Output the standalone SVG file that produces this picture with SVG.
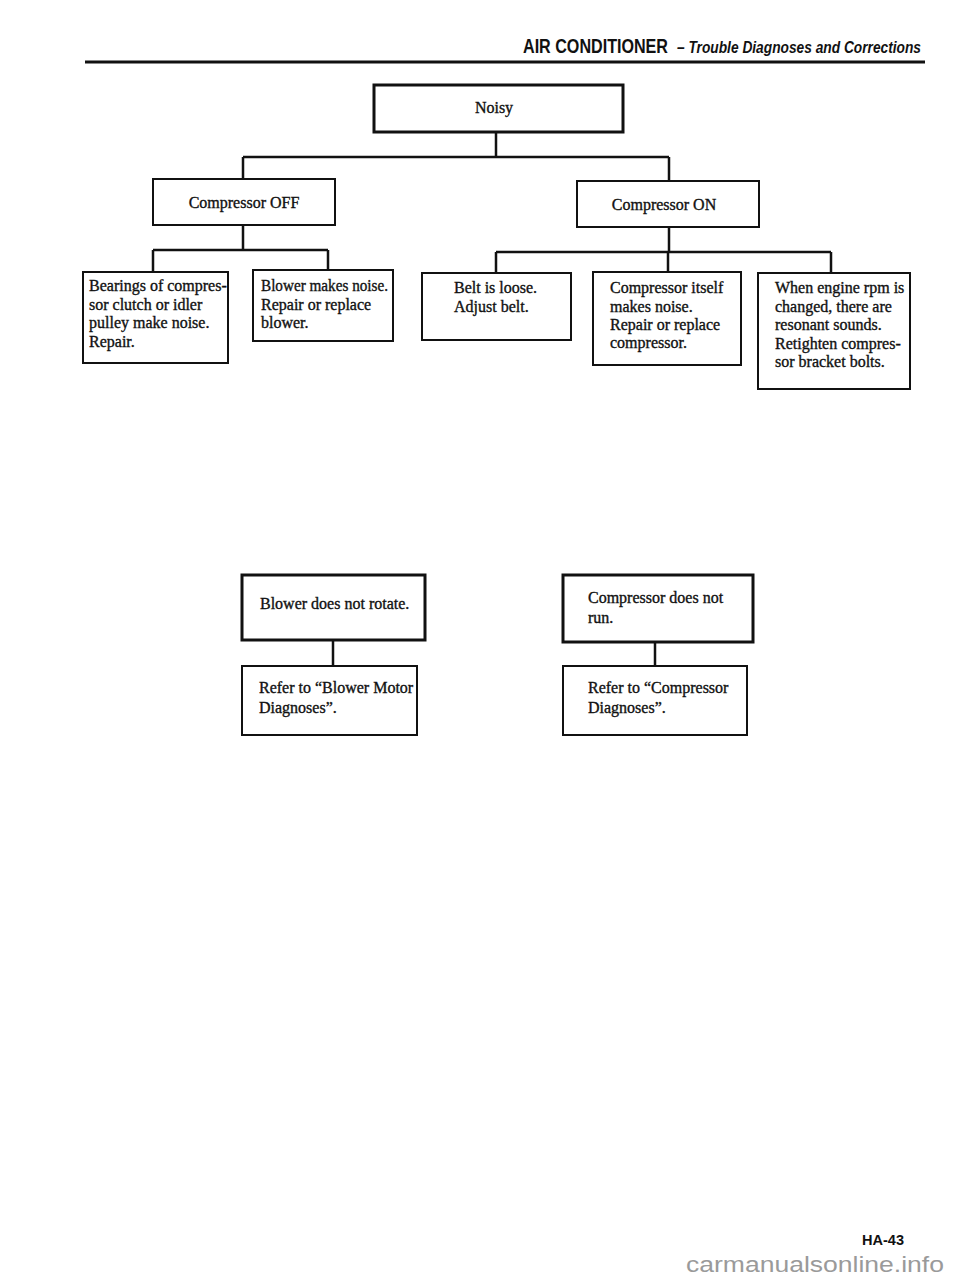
<svg xmlns="http://www.w3.org/2000/svg" width="960" height="1279" viewBox="0 0 960 1279">
<style>
.box{fill:#fff;stroke:#111;stroke-width:2}
.thick{stroke-width:3}
.t{font-family:"Liberation Serif","Times New Roman",serif;font-size:16px;fill:#111;stroke:#111;stroke-width:0.35}
.c{text-anchor:middle}
.con{fill:none;stroke:#111;stroke-width:2.5}
.hd{font-family:"Liberation Sans",Arial,sans-serif;font-weight:bold;fill:#111}
</style>
<rect width="960" height="1279" fill="#fff"/>
<g id="header">
<text class="hd" transform="translate(523,53) scale(1,1.24)" x="0" y="0" font-size="16" textLength="145" lengthAdjust="spacingAndGlyphs">AIR CONDITIONER</text>
<text class="hd" transform="translate(677,53) scale(1,1.17)" x="0" y="0" font-size="13.6" font-style="italic" textLength="244" lengthAdjust="spacingAndGlyphs">– Trouble Diagnoses and Corrections</text>
<line x1="85" y1="62" x2="925" y2="62" stroke="#111" stroke-width="3"/>
</g>
<g id="connectors">
<path class="con" d="M496 132V157M243 157H669M243 157V179M669 157V181"/>
<path class="con" d="M243 225V250M153 250H328M153 250V272M328 250V270"/>
<path class="con" d="M669 227V252M496 252H831M496 252V273M668 252V272M831 252V273"/>
<path class="con" d="M333 640V666M655 642V666"/>
</g>
<g id="noisy"><rect class="box thick" x="374" y="85" width="249" height="47"/><text class="t c" x="494" y="113">Noisy</text></g>
<g id="comp-off"><rect class="box" x="153" y="179" width="182" height="46"/><text class="t c" x="244" y="208">Compressor OFF</text></g>
<g id="comp-on"><rect class="box" x="577" y="181" width="182" height="46"/><text class="t c" x="664" y="210">Compressor ON</text></g>
<g id="bearings"><rect class="box" x="83" y="272" width="145" height="91"/>
<text class="t" x="89" y="291">Bearings of compres-</text><text class="t" x="89" y="310">sor clutch or idler</text><text class="t" x="89" y="328">pulley make noise.</text><text class="t" x="89" y="347">Repair.</text></g>
<g id="blower-noise"><rect class="box" x="253" y="270" width="140" height="71"/>
<text class="t" x="261" y="291" textLength="127" lengthAdjust="spacingAndGlyphs">Blower makes noise.</text><text class="t" x="261" y="310">Repair or replace</text><text class="t" x="261" y="328">blower.</text></g>
<g id="belt"><rect class="box" x="422" y="273" width="149" height="67"/>
<text class="t" x="454" y="293">Belt is loose.</text><text class="t" x="454" y="312">Adjust belt.</text></g>
<g id="comp-itself"><rect class="box" x="593" y="272" width="148" height="93"/>
<text class="t" x="610" y="293">Compressor itself</text><text class="t" x="610" y="312">makes noise.</text><text class="t" x="610" y="330">Repair or replace</text><text class="t" x="610" y="348">compressor.</text></g>
<g id="engine-rpm"><rect class="box" x="758" y="273" width="152" height="116"/>
<text class="t" x="775" y="293">When engine rpm is</text><text class="t" x="775" y="312">changed, there are</text><text class="t" x="775" y="330">resonant sounds.</text><text class="t" x="775" y="349">Retighten compres-</text><text class="t" x="775" y="367">sor bracket bolts.</text></g>
<g id="blower-rotate"><rect class="box thick" x="242" y="575" width="183" height="65"/>
<text class="t" x="260" y="609">Blower does not rotate.</text></g>
<g id="blower-ref"><rect class="box" x="242" y="666" width="175" height="69"/>
<text class="t" x="259" y="693">Refer to “Blower Motor</text><text class="t" x="259" y="713">Diagnoses”.</text></g>
<g id="comp-run"><rect class="box thick" x="563" y="575" width="190" height="67"/>
<text class="t" x="588" y="603">Compressor does not</text><text class="t" x="588" y="623">run.</text></g>
<g id="comp-ref"><rect class="box" x="563" y="666" width="184" height="69"/>
<text class="t" x="588" y="693">Refer to “Compressor</text><text class="t" x="588" y="713">Diagnoses”.</text></g>
<g id="footer">
<text class="hd" x="862" y="1245" font-size="15" textLength="42" lengthAdjust="spacingAndGlyphs">HA-43</text>
<text x="686" y="1272" font-family="Liberation Sans,Arial,sans-serif" font-size="22" fill="#9a9a9a" textLength="258" lengthAdjust="spacingAndGlyphs">carmanualsonline.info</text>
</g>
</svg>
